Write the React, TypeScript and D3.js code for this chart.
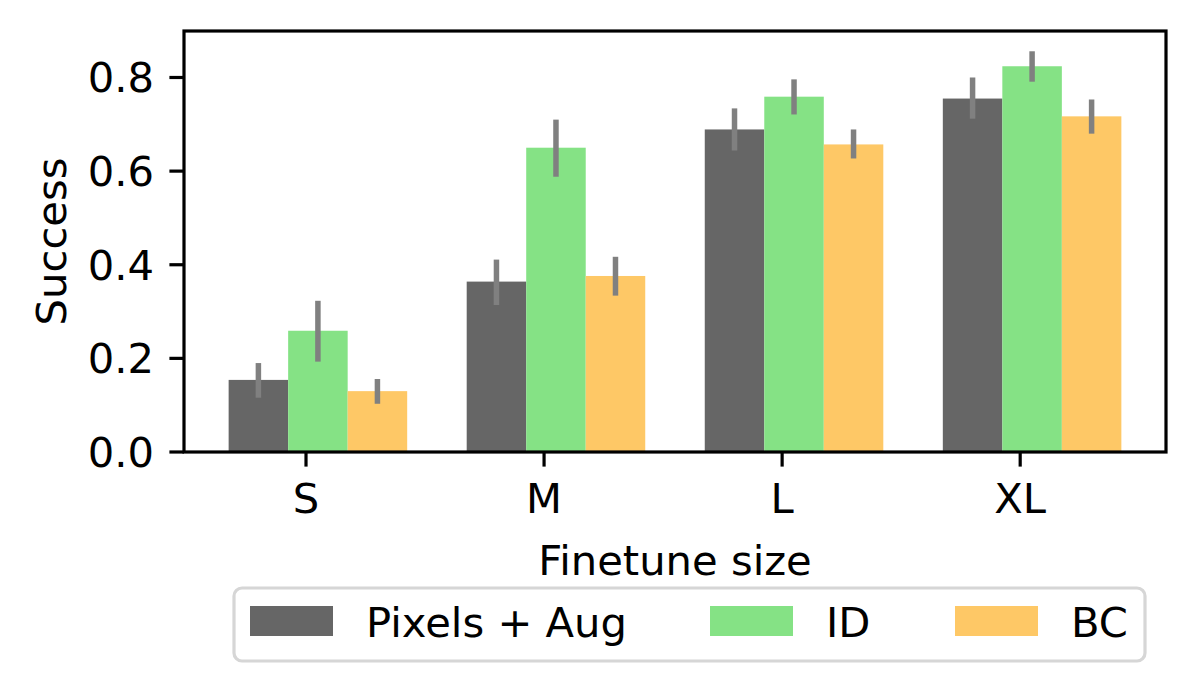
import React, { useEffect, useRef } from "react";
import * as d3 from "d3";

const categories = ["S", "M", "L", "XL"];
const seriesNames = ["Pixels + Aug", "ID", "BC"];
const seriesColors = ["#666666", "#85e285", "#fec866"];

const pixelsAug = [0.154, 0.364, 0.689, 0.755];
const pixelsAugLow = [0.116, 0.314, 0.644, 0.712];
const pixelsAugHigh = [0.19, 0.411, 0.734, 0.8];

const idVals = [0.259, 0.65, 0.759, 0.824];
const idLow = [0.193, 0.588, 0.721, 0.791];
const idHigh = [0.323, 0.71, 0.796, 0.856];

const bcVals = [0.13, 0.376, 0.657, 0.717];
const bcLow = [0.103, 0.334, 0.627, 0.68];
const bcHigh = [0.156, 0.417, 0.689, 0.753];

const yTicks = [0, 0.2, 0.4, 0.6, 0.8];

const W = 1195;
const H = 693;
const FONT = "DejaVu Sans, sans-serif";
const FS = 41.7;

export default function App() {
  const ref = useRef<SVGSVGElement>(null);

  useEffect(() => {
    document.body.style.margin = "0";
    const svg = d3.select(ref.current);
    svg.selectAll("*").remove();

    const left = 184, right = 1166, top = 31, bottom = 452;
    const barW = 0.25;
    const offsets = [-0.325, -0.075, 0.175];
    const lw = 3.2;

    const x = d3.scaleLinear().domain([-0.5125, 3.6125]).range([left, right]);
    const y = d3.scaleLinear().domain([0, 0.8993]).range([bottom, top]);

    const series = [
      { vals: pixelsAug, lo: pixelsAugLow, hi: pixelsAugHigh },
      { vals: idVals, lo: idLow, hi: idHigh },
      { vals: bcVals, lo: bcLow, hi: bcHigh },
    ];

    svg.append("rect").attr("width", W).attr("height", H).attr("fill", "#fff");

    // bars
    series.forEach((s, si) => {
      svg
        .append("g")
        .selectAll("rect")
        .data(s.vals)
        .enter()
        .append("rect")
        .attr("x", (_, i) => x(i + offsets[si]))
        .attr("width", x(barW) - x(0))
        .attr("y", (d) => y(d))
        .attr("height", (d) => y(0) - y(d))
        .attr("fill", seriesColors[si]);
    });

    // error bars
    series.forEach((s, si) => {
      svg
        .append("g")
        .selectAll("line")
        .data(s.vals)
        .enter()
        .append("line")
        .attr("x1", (_, i) => x(i + offsets[si] + barW / 2))
        .attr("x2", (_, i) => x(i + offsets[si] + barW / 2))
        .attr("y1", (_, i) => y(s.lo[i]))
        .attr("y2", (_, i) => y(s.hi[i]))
        .attr("stroke", "#808080")
        .attr("stroke-width", 5.5);
    });

    // frame
    svg
      .append("rect")
      .attr("x", left)
      .attr("y", top)
      .attr("width", right - left)
      .attr("height", bottom - top)
      .attr("fill", "none")
      .attr("stroke", "#000")
      .attr("stroke-width", lw);

    // y axis
    const yAxis = svg.append("g");
    yTicks.forEach((t) => {
      yAxis
        .append("line")
        .attr("x1", left - 14.6)
        .attr("x2", left)
        .attr("y1", y(t))
        .attr("y2", y(t))
        .attr("stroke", "#000")
        .attr("stroke-width", lw);
      yAxis
        .append("text")
        .attr("x", left - 30)
        .attr("y", y(t))
        .attr("dy", "0.36em")
        .attr("text-anchor", "end")
        .attr("font-family", FONT)
        .attr("font-size", FS)
        .text(d3.format(".1f")(t));
    });

    // x axis
    const xAxis = svg.append("g");
    categories.forEach((c, i) => {
      xAxis
        .append("line")
        .attr("x1", x(i))
        .attr("x2", x(i))
        .attr("y1", bottom)
        .attr("y2", bottom + 14.6)
        .attr("stroke", "#000")
        .attr("stroke-width", lw);
      xAxis
        .append("text")
        .attr("x", x(i))
        .attr("y", 513)
        .attr("text-anchor", "middle")
        .attr("font-family", FONT)
        .attr("font-size", FS)
        .text(c);
    });

    svg
      .append("text")
      .attr("x", (left + right) / 2)
      .attr("y", 575)
      .attr("text-anchor", "middle")
      .attr("font-family", FONT)
      .attr("font-size", FS)
      .text("Finetune size");

    svg
      .append("text")
      .attr("transform", `translate(66,${(top + bottom) / 2}) rotate(-90)`)
      .attr("text-anchor", "middle")
      .attr("font-family", FONT)
      .attr("font-size", FS)
      .text("Success");

    // legend
    const lg = svg.append("g");
    lg.append("rect")
      .attr("x", 234)
      .attr("y", 588)
      .attr("width", 911)
      .attr("height", 73)
      .attr("rx", 8)
      .attr("fill", "#fff")
      .attr("stroke", "#d6d6d6")
      .attr("stroke-width", lw);
    const handleX = [250, 710, 955];
    seriesNames.forEach((n, i) => {
      lg.append("rect")
        .attr("x", handleX[i])
        .attr("y", 606)
        .attr("width", 83)
        .attr("height", 30)
        .attr("fill", seriesColors[i]);
      lg.append("text")
        .attr("x", handleX[i] + 116)
        .attr("y", 622)
        .attr("dy", "0.36em")
        .attr("font-family", FONT)
        .attr("font-size", FS)
        .text(n);
    });
  }, []);

  return <svg ref={ref} width={W} height={H} style={{ display: "block" }} />;
}
